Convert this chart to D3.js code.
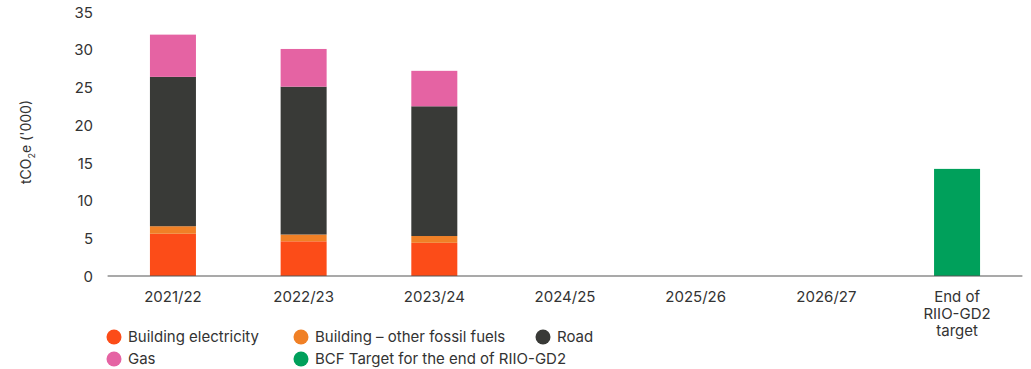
<!DOCTYPE html>
<html><head><meta charset="utf-8">
<script src="https://cdn.jsdelivr.net/npm/d3@7"></script>
<style>body{margin:0;background:#fff;font-family:Inter,"Noto Sans",sans-serif;}</style>
</head><body>
<svg id="c" width="1031" height="369"></svg>
<script>
const categories = ["2021/22","2022/23","2023/24","2024/25","2025/26","2026/27","End of|RIIO-GD2|target"];
const buildingElectricity = [5.6, 4.6, 4.4, 0, 0, 0, 0];
const buildingOtherFossil = [1.0, 0.9, 0.9, 0, 0, 0, 0];
const road = [19.8, 19.6, 17.2, 0, 0, 0, 0];
const gas = [5.6, 5.0, 4.7, 0, 0, 0, 0];
const bcfTarget = [0, 0, 0, 0, 0, 0, 14.2];
const yTicks = [0,5,10,15,20,25,30,35];

const seriesNames = ["Building electricity","Building – other fossil fuels","Road","Gas","BCF Target for the end of RIIO-GD2"];
const colors = ["#FC4C18","#F08026","#393A37","#E563A3","#00A05B"];
const seriesData = [buildingElectricity, buildingOtherFossil, road, gas, bcfTarget];

const svg = d3.select("#c");
const x = d3.scaleBand().domain(categories).range([107.6, 1022.4]).paddingInner(0.648).paddingOuter(0.324);
const y = d3.scaleLinear().domain([0,35]).range([276, 12]);

const table = categories.map((c,i)=>{const o={cat:c}; seriesNames.forEach((s,j)=>o[s]=seriesData[j][i]); return o;});
const stack = d3.stack().keys(seriesNames)(table);

svg.append("g").selectAll("g").data(stack).join("g")
  .attr("fill",(d,i)=>colors[i])
  .selectAll("rect").data(d=>d.filter(p=>p[1]-p[0]>0)).join("rect")
  .attr("x",d=>x(d.data.cat)).attr("width",x.bandwidth())
  .attr("y",d=>y(d[1])).attr("height",d=>y(d[0])-y(d[1]));

// y axis labels
const yAxis = svg.append("g").attr("transform","translate(93,0)")
  .call(d3.axisLeft(y).tickValues(yTicks).tickSize(0).tickPadding(0));
yAxis.select(".domain").remove();
yAxis.selectAll("text").attr("font-family","Inter, sans-serif").attr("font-size",15).attr("fill","#333").attr("dy","0.35em");

// x axis
const xAxis = svg.append("g").attr("transform","translate(0,276)")
  .call(d3.axisBottom(x).tickSize(0).tickPadding(0).tickFormat(""));
xAxis.select(".domain").attr("stroke","#555").attr("stroke-width",1.2).attr("d","M107.6,0H1022.4");
xAxis.selectAll(".tick").each(function(d){
  const lines = d.split("|");
  const t = d3.select(this).append("text").attr("fill","#333").attr("font-family","Inter, sans-serif").attr("font-size",15).attr("text-anchor","middle");
  lines.forEach((l,i)=>t.append("tspan").attr("x",0).attr("y",26+i*17).text(l));
});

// y title
svg.append("text").attr("transform","translate(31,142) rotate(-90)").attr("text-anchor","middle")
  .attr("font-family","Inter, sans-serif").attr("font-size",14).attr("fill","#333")
  .html("tCO<tspan font-size='9' dy='4'>2</tspan><tspan dy='-4'>e ('000)</tspan>");

// legend
const legendPos = [[114,337],[301,337],[543,337],[114,359],[301,359]];
const lg = svg.append("g");
seriesNames.forEach((s,i)=>{
  const [cx,cy]=legendPos[i];
  lg.append("circle").attr("cx",cx).attr("cy",cy).attr("r",7.5).attr("fill",colors[i]);
  lg.append("text").attr("x",cx+14).attr("y",cy).attr("dy","0.35em").attr("font-family","Inter, sans-serif")
    .attr("font-size",15).attr("fill","#333").text(s);
});
</script>
</body></html>
